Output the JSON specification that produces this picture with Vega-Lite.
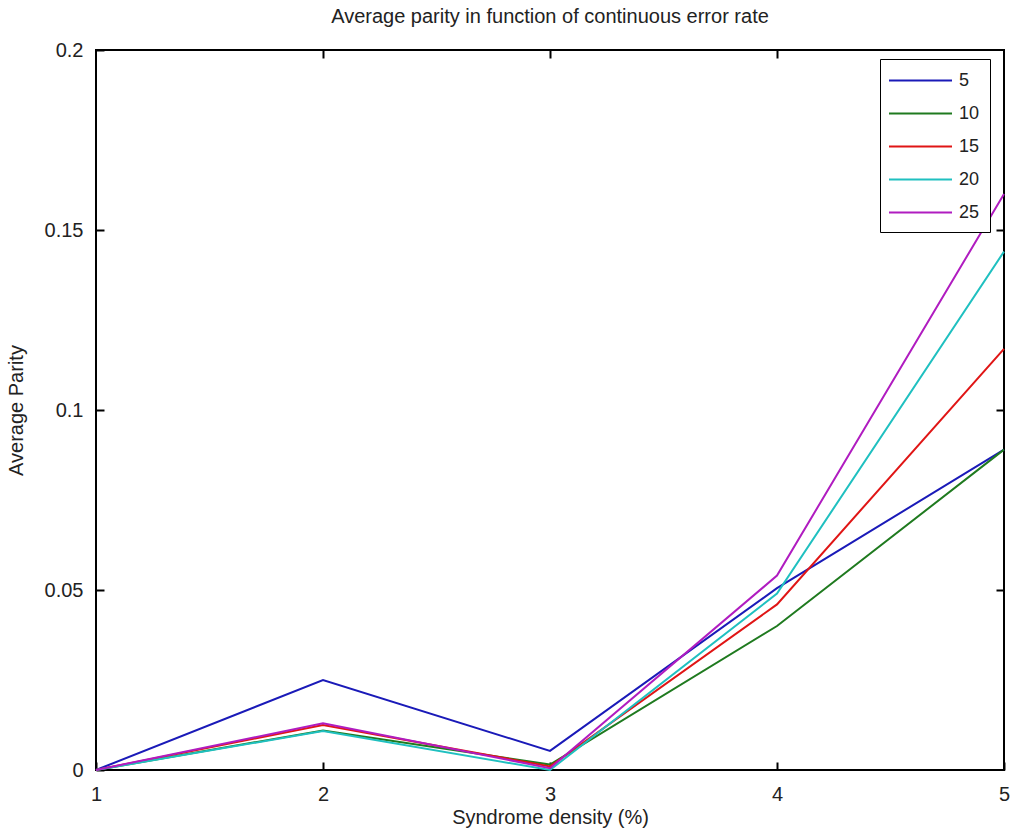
{
  "$schema": "https://vega.github.io/schema/vega-lite/v6.json",
  "autosize": {"type": "none"},
  "width": 908,
  "height": 720,
  "padding": {"left": 96, "top": 50, "right": 8, "bottom": 58},
  "background": "white",
  "title": {"text": "Average parity in function of continuous error rate", "fontSize": 20, "font": "Liberation Sans", "fontWeight": "normal", "color": "#222", "offset": 13, "anchor": "middle"},
  "config": {
    "view": {"stroke": "black", "strokeWidth": 2},
    "font": "Liberation Sans"
  },
  "data": {"values": [
    {"density": 1, "series": "5", "parity": 0},
    {"density": 2, "series": "5", "parity": 0.025},
    {"density": 3, "series": "5", "parity": 0.0053},
    {"density": 4, "series": "5", "parity": 0.0505},
    {"density": 5, "series": "5", "parity": 0.089},
    {"density": 1, "series": "10", "parity": 0},
    {"density": 2, "series": "10", "parity": 0.011},
    {"density": 3, "series": "10", "parity": 0.0015},
    {"density": 4, "series": "10", "parity": 0.040},
    {"density": 5, "series": "10", "parity": 0.089},
    {"density": 1, "series": "15", "parity": 0},
    {"density": 2, "series": "15", "parity": 0.0125},
    {"density": 3, "series": "15", "parity": 0.001},
    {"density": 4, "series": "15", "parity": 0.046},
    {"density": 5, "series": "15", "parity": 0.117},
    {"density": 1, "series": "20", "parity": 0},
    {"density": 2, "series": "20", "parity": 0.0108},
    {"density": 3, "series": "20", "parity": 0},
    {"density": 4, "series": "20", "parity": 0.049},
    {"density": 5, "series": "20", "parity": 0.144},
    {"density": 1, "series": "25", "parity": 0},
    {"density": 2, "series": "25", "parity": 0.013},
    {"density": 3, "series": "25", "parity": 0.0005},
    {"density": 4, "series": "25", "parity": 0.054},
    {"density": 5, "series": "25", "parity": 0.160}
  ]},
  "layer": [
    {
      "mark": {"type": "line", "strokeWidth": 2},
      "encoding": {
        "x": {"field": "density", "type": "quantitative", "scale": {"domain": [1, 5], "nice": false},
              "axis": {"orient": "bottom", "title": "Syndrome density (%)", "titleFontSize": 20, "titleFontWeight": "normal", "titleColor": "#222", "titlePadding": 3,
                       "values": [1, 2, 3, 4, 5], "format": "d", "grid": false, "domain": false, "tickSize": -8, "tickColor": "black", "tickWidth": 2,
                       "labelFontSize": 20, "labelColor": "#222", "labelPadding": 22, "labelFlush": false}},
        "y": {"field": "parity", "type": "quantitative", "scale": {"domain": [0, 0.2], "nice": false},
              "axis": {"orient": "left", "title": "Average Parity", "titleFontSize": 20, "titleFontWeight": "normal", "titleColor": "#222", "titlePadding": 18,
                       "values": [0, 0.05, 0.1, 0.15, 0.2], "labelExpr": "datum.value === 0 ? '0' : format(datum.value, '.2~f')",
                       "grid": false, "domain": false, "tickSize": -8, "tickColor": "black", "tickWidth": 2,
                       "labelFontSize": 20, "labelColor": "#222", "labelPadding": 21, "labelFlush": false}},
        "color": {"field": "series", "type": "nominal", "sort": ["5", "10", "15", "20", "25"],
                  "scale": {"domain": ["5", "10", "15", "20", "25"], "range": ["#1a1ab8", "#1f7a1f", "#e01515", "#1fc0c0", "#b01cc0"]},
                  "legend": {"title": null, "orient": "none", "legendX": 784, "legendY": 9, "symbolType": "M-3,0H3", "symbolSize": 441, "symbolStrokeWidth": 2, "symbolOffset": 19,
                             "labelFontSize": 18, "labelColor": "#222", "rowPadding": 12, "padding": 10, "strokeColor": "black", "fillColor": "white", "labelOffset": 27}},
        "order": {"field": "series", "type": "nominal"}
      }
    },
    {
      "mark": {"type": "line", "opacity": 0},
      "encoding": {
        "x": {"field": "density", "type": "quantitative", "scale": {"domain": [1, 5], "nice": false},
              "axis": {"orient": "top", "title": null, "labels": false, "values": [2, 3, 4], "grid": false, "domain": false, "tickSize": -8, "tickColor": "black", "tickWidth": 2}},
        "y": {"field": "parity", "type": "quantitative", "scale": {"domain": [0, 0.2], "nice": false},
              "axis": {"orient": "right", "title": null, "labels": false, "values": [0.05, 0.1, 0.15], "grid": false, "domain": false, "tickSize": -8, "tickColor": "black", "tickWidth": 2}},
        "detail": {"field": "series", "type": "nominal"}
      }
    }
  ],
  "resolve": {"axis": {"x": "independent", "y": "independent"}}
}
